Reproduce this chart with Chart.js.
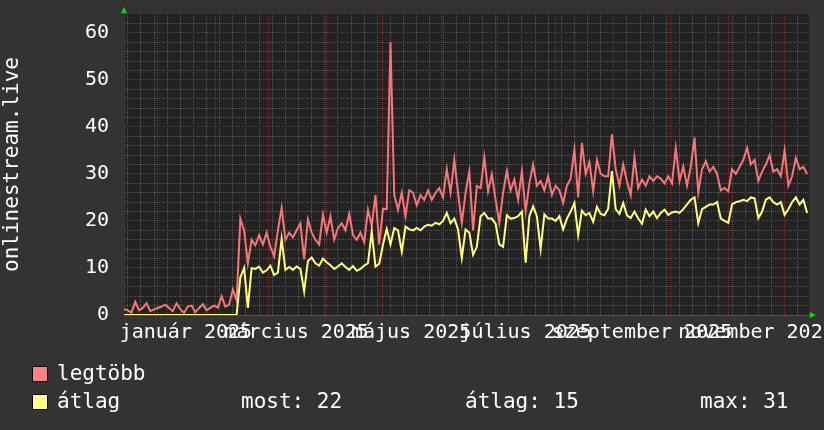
<!DOCTYPE html>
<html>
<head>
<meta charset="utf-8">
<title>onlinestream.live</title>
<script src="https://cdn.jsdelivr.net/npm/chart.js@4.4.1/dist/chart.umd.min.js"></script>
<style>
  html, body { margin: 0; padding: 0; background: #333333; }
  #wrap { position: relative; width: 824px; height: 430px; overflow: hidden; }
  #c { position: absolute; left: 0; top: 0; }
  .lg { position: absolute; font: 21px 'DejaVu Sans Mono', monospace; line-height: 21px; color: #ffffff; white-space: pre; }
  .sw { position: absolute; width: 14px; height: 14px; border: 1px solid #000; }
</style>
</head>
<body>
<div id="wrap">
  <canvas id="c" width="824" height="430"></canvas>
</div>
<script>
  // ---------- Data ----------
  // one value every 2 days, starting 2024-12-14
  const startDate = new Date(2024, 11, 14);
  const stepDays = 2;
  const totalDays = 365;

  const legtobb = [
    1.3, 1.0, 0.5, 2.8, 1.0, 1.5, 2.5, 0.8, 1.2, 1.5,
    1.8, 2.2, 1.5, 0.8, 2.5, 1.2, 0.5, 1.8, 2.0, 0.6,
    1.5, 2.3, 1.0, 1.5, 2.0, 1.6, 4.0, 1.8, 2.2, 5.4,
    3.0, 20.5, 18.0, 11.0, 16.0, 14.8, 17.0, 15.0, 17.5, 14.5,
    12.5, 18.0, 22.8, 16.0, 17.5, 16.5, 18.0, 19.5, 11.8, 20.3,
    17.5, 16.0, 15.0, 21.3, 17.5, 21.0, 16.0, 18.5, 19.5, 18.0,
    21.5, 17.0, 16.0, 17.5, 15.5, 22.4, 19.0, 25.5, 15.0, 22.6,
    22.5, 58.0, 25.5, 22.4, 26.0, 21.0, 26.5, 26.0, 23.3, 25.5,
    24.5, 26.5, 24.5, 26.0, 27.0, 25.0, 31.0, 26.0, 33.0, 26.0,
    19.6, 26.0, 30.5, 18.0, 27.4, 27.0, 33.5, 26.3, 29.9, 24.5,
    19.6, 26.0, 30.6, 26.5, 28.8, 24.5, 30.6, 22.0, 28.0, 32.0,
    27.5, 28.5, 26.5, 29.5, 25.5, 27.5, 26.5, 23.8, 27.5, 29.0,
    35.2, 25.0, 36.6, 30.0, 32.5, 26.3, 33.0, 30.0, 29.5, 29.5,
    38.4, 31.0, 27.5, 32.0, 28.5, 25.5, 33.5, 27.0, 28.8, 27.5,
    29.5, 28.5, 29.5, 29.0, 28.0, 29.5, 28.0, 35.5, 28.5, 31.6,
    27.5, 31.5, 37.7, 26.0, 31.0, 32.7, 30.5, 31.5, 30.0, 26.5,
    27.0, 26.3, 31.0, 30.0, 31.5, 33.0, 35.5, 32.0, 33.0, 28.5,
    30.5, 32.0, 34.0, 30.5, 31.0, 29.5, 35.0, 27.5, 29.5, 33.4,
    31.0, 31.5, 30.0
  ];

  const atlag = [
    0, 0, 0, 0, 0, 0, 0, 0, 0, 0,
    0, 0, 0, 0, 0, 0, 0, 0, 0, 0,
    0, 0, 0, 0, 0, 0, 0, 0, 0, 0,
    0, 8.0, 10.0, 1.5, 10.0, 9.8, 10.3, 9.0, 9.5, 10.5,
    8.5, 9.0, 16.2, 9.6, 10.2, 9.6, 10.3, 9.8, 5.0, 11.5,
    12.2, 11.0, 10.5, 12.0, 11.2, 10.6, 9.8, 10.3, 11.0, 10.2,
    9.6, 10.4, 9.4, 9.8, 10.5, 11.0, 17.8, 10.3, 10.9, 15.0,
    18.3, 15.0, 18.5, 18.0, 13.5, 18.8, 18.2, 18.0, 18.5, 18.0,
    18.8, 19.2, 19.0, 19.6, 19.3, 20.0, 21.7, 19.5, 20.5, 18.2,
    12.1, 18.2, 17.5, 12.8, 14.5, 21.0, 21.7, 20.5, 20.5, 19.4,
    15.0, 14.5, 21.2, 20.5, 20.6, 21.0, 22.0, 11.1, 21.0, 23.1,
    21.0, 14.0, 21.4, 20.5, 20.5, 20.0, 21.0, 18.2, 20.5, 22.0,
    23.8, 17.0, 22.2, 21.2, 21.7, 19.8, 23.0, 21.5, 21.2, 22.6,
    30.6, 22.5, 21.5, 23.8, 21.2, 20.6, 22.0, 20.5, 19.4, 22.4,
    21.0, 22.0, 20.6, 21.7, 22.4, 21.3, 21.8, 22.0, 21.7, 22.5,
    23.5, 24.5, 25.0, 19.5, 22.5, 23.0, 23.5, 23.5, 24.0, 20.5,
    20.0, 19.6, 23.5, 24.0, 24.2, 24.5, 24.2, 25.0, 24.8, 20.6,
    22.0, 24.5, 25.0, 24.0, 23.5, 24.0, 21.3, 22.5, 24.0, 25.0,
    23.5, 24.5, 21.7
  ];

  const seriesNames = ['legtöbb', 'átlag'];
  const seriesColors = ['#ff8080', '#ffff80'];
  const statNames = ['most', 'átlag', 'max'];
  const statValues = [22, 15, 31];

  const xTickMonths = [0, 2, 4, 6, 8, 10]; // 2025
  const xTickLabels = ['január 2025', 'március 2025', 'május 2025', 'július 2025', 'szeptember 2025', 'november 2025'];
  const yMax = 64;
  const yTitle = 'onlinestream.live';

  // ---------- Style ----------
  const FONT = "'DejaVu Sans Mono', monospace";
  const MINOR = '#585858';
  const MAJOR = '#763434';

  const dayOf = (d) => Math.round((d - startDate) / 86400000);

  function buildXTicks() {
    const t = [];
    for (let d = 0; d <= totalDays; d++) {
      const dt = new Date(startDate.getFullYear(), startDate.getMonth(), startDate.getDate() + d);
      if (dt.getDay() === 1) t.push({ value: d, kind: 'week' });
      if (dt.getDate() === 1) t.push({ value: d, kind: 'month' });
    }
    // rrdtool puts the month label half a month after the month start
    xTickMonths.forEach((m, i) => {
      t.push({ value: dayOf(new Date(2025, m, 1)) + 15, kind: 'label', text: xTickLabels[i] });
    });
    return t.sort((a, b) => a.value - b.value);
  }

  const toPoints = (arr) => arr.map((v, i) => ({ x: i * stepDays, y: v }));

  const plotBg = {
    id: 'plotBg',
    beforeDraw(chart) {
      const { ctx, chartArea: a } = chart;
      ctx.save();
      ctx.fillStyle = '#222222';
      ctx.fillRect(a.left, a.top, a.right - a.left, a.bottom - a.top);
      ctx.restore();
    }
  };

  const arrows = {
    id: 'arrows',
    afterDraw(chart) {
      const { ctx, chartArea: a } = chart;
      ctx.save();
      ctx.fillStyle = '#00dd00';
      ctx.beginPath(); // up arrow on y axis
      ctx.moveTo(a.left - 3, a.top - 1);
      ctx.lineTo(a.left + 3, a.top - 1);
      ctx.lineTo(a.left, a.top - 7);
      ctx.fill();
      ctx.beginPath(); // right arrow on x axis
      ctx.moveTo(a.right + 1, a.bottom - 3);
      ctx.lineTo(a.right + 1, a.bottom + 3);
      ctx.lineTo(a.right + 7, a.bottom);
      ctx.fill();
      ctx.restore();
    }
  };

  new Chart(document.getElementById('c'), {
    type: 'line',
    data: {
      datasets: [
        { label: seriesNames[1], data: toPoints(atlag), borderColor: '#ffff78', borderWidth: 2, pointRadius: 0, tension: 0, order: 0 },
        { label: seriesNames[0], data: toPoints(legtobb), borderColor: '#f87676', borderWidth: 2, pointRadius: 0, tension: 0, order: 1 }
      ]
    },
    options: {
      responsive: false,
      animation: false,
      devicePixelRatio: 1,
      layout: { autoPadding: false, padding: { left: 0, right: 15, top: 14, bottom: 0 } },
      plugins: { legend: { display: false }, tooltip: { enabled: false } },
      scales: {
        x: {
          type: 'linear',
          min: 0,
          max: totalDays,
          afterBuildTicks: (s) => { s.ticks = buildXTicks(); },
          afterFit: (s) => { s.height = 115; s.paddingLeft = 0; s.paddingRight = 0; },
          grid: {
            drawTicks: false,
            lineWidth: 1,
            color: (c) => {
              const k = c.tick && c.tick.kind;
              if (k === 'month') return MAJOR;
              if (k === 'week') return MINOR;
              return 'rgba(0,0,0,0)';
            }
          },
          border: { display: true, color: '#555555', width: 1, dash: [1, 1] },
          ticks: {
            autoSkip: false, maxRotation: 0, minRotation: 0, padding: 6,
            color: '#ffffff', font: { family: FONT, size: 20 },
            callback: (v, i, ticks) => ticks[i].text || ''
          }
        },
        y: {
          min: 0,
          max: yMax,
          afterFit: (s) => { s.width = 124; s.paddingTop = 0; s.paddingBottom = 0; },
          grid: {
            drawTicks: false,
            lineWidth: 1,
            color: (c) => {
              const v = c.tick.value;
              if (v === 0 || v === yMax) return 'rgba(0,0,0,0)';
              return v % 10 === 0 ? MAJOR : MINOR;
            }
          },
          border: { display: true, color: '#3a3a3a', width: 1, dash: [1, 1] },
          ticks: {
            stepSize: 2, autoSkip: false, padding: 15,
            color: '#ffffff', font: { family: FONT, size: 20 },
            callback: (v) => (v % 10 === 0 ? String(v) : '')
          },
          title: {
            display: true, text: yTitle, color: '#ffffff',
            font: { family: FONT, size: 21 }, padding: { top: 0, bottom: 0 }
          }
        }
      }
    },
    plugins: [plotBg, arrows]
  });

  // ---------- Legend (rrdtool style, below the plot) ----------
  const wrap = document.getElementById('wrap');
  function add(cls, css, text) {
    const el = document.createElement('div');
    el.className = cls;
    el.style.cssText = css;
    if (text) el.textContent = text;
    wrap.appendChild(el);
  }
  const rowTop = [363, 391];
  const statLeft = [241, 465, 700];
  seriesNames.forEach((name, i) => {
    add('sw', `left:32px;top:${rowTop[i] + 3}px;background:${seriesColors[i]}`);
    add('lg', `left:57px;top:${rowTop[i]}px`, name);
  });
  statNames.forEach((n, i) => {
    add('lg', `left:${statLeft[i]}px;top:${rowTop[1]}px`, `${n}: ${statValues[i]}`);
  });
</script>
</body>
</html>
